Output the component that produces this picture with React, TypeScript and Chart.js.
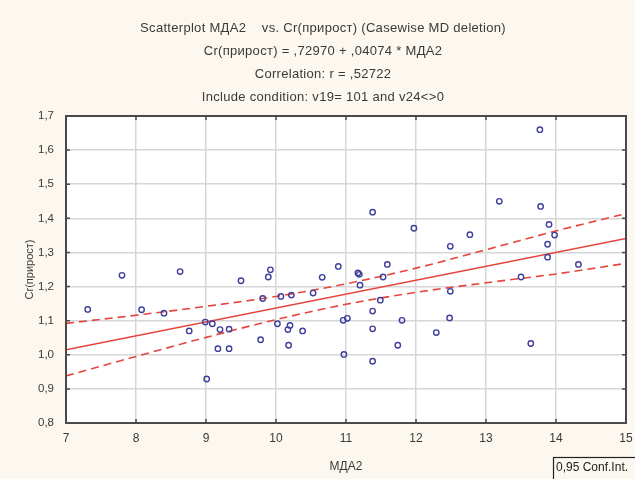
import React, { useEffect, useRef } from "react";
import { Chart, registerables } from "chart.js";

Chart.register(...registerables);

// Scatter points: МДА2 (x) vs Cr(прирост) (y)
const pointX = [
  7.31, 7.8, 8.08, 8.4, 8.63, 8.76, 8.99, 9.09, 9.01, 9.2, 9.33, 9.17, 9.33, 9.5,
  9.78, 9.92, 9.89, 9.81, 10.07, 10.22, 10.53, 10.66, 10.89, 10.02, 10.2, 10.17,
  10.38, 10.18, 10.96, 11.02, 10.97, 11.17, 11.19, 11.2, 11.59, 11.53, 11.49,
  11.38, 11.38, 11.8, 11.74, 11.38, 12.29, 12.48, 11.38, 11.97, 12.49, 13.77,
  13.19, 13.78, 13.9, 13.98, 13.88, 13.88, 12.77, 14.32, 13.5, 12.49, 13.64,
];
const pointY = [
  1.133, 1.233, 1.132, 1.122, 1.244, 1.07, 1.096, 1.091, 0.929, 1.074, 1.075,
  1.018, 1.018, 1.217, 1.044, 1.249, 1.228, 1.165, 1.171, 1.175, 1.181, 1.227,
  1.259, 1.091, 1.086, 1.074, 1.07, 1.028, 1.101, 1.107, 1.001, 1.24, 1.236,
  1.204, 1.265, 1.228, 1.16, 1.128, 1.076, 1.101, 1.028, 0.981, 1.065, 1.108,
  1.418, 1.371, 1.318, 1.66, 1.45, 1.435, 1.382, 1.351, 1.324, 1.286, 1.352,
  1.265, 1.228, 1.186, 1.033,
];

// Regression line and 95% confidence band
const fitX = [7, 15];
const fitY = [1.0149, 1.3408];
const bandX = [7, 8, 9, 10, 11, 12, 13, 14, 15];
const bandUpper = [1.092, 1.116, 1.142, 1.171, 1.208, 1.254, 1.308, 1.363, 1.414];
const bandLower = [0.938, 0.995, 1.051, 1.103, 1.148, 1.183, 1.211, 1.237, 1.268];

const xMin = 7;
const xMax = 15;
const yMin = 0.8;
const yMax = 1.7;

const titleLines = [
  "Scatterplot МДА2    vs. Cr(прирост) (Casewise MD deletion)",
  "Cr(прирост) = ,72970 + ,04074 * МДА2",
  "Correlation: r = ,52722",
  "Include condition: v19= 101 and v24<>0",
];
const xTitle = "МДА2";
const yTitle = "Cr(прирост)";
const legendText = "0,95 Conf.Int.";

const FONT = "'Liberation Sans', Arial, Helvetica, sans-serif";
const TEXT = "#3a3a3a";
const RED = "#e5453d";
const BLUE = "#3f3f9c";

const decorPlugin = {
  id: "decor",
  beforeDraw(chart: any) {
    const { ctx, chartArea: a, width, height } = chart;
    ctx.save();
    ctx.fillStyle = "#fcf7ef";
    ctx.fillRect(0, 0, width, height);
    ctx.fillStyle = "#ffffff";
    ctx.fillRect(a.left, a.top, a.right - a.left, a.bottom - a.top);
    ctx.restore();
  },
  afterDraw(chart: any) {
    const { ctx, chartArea: a, scales } = chart;
    ctx.save();
    // frame
    ctx.strokeStyle = "#4a4a4a";
    ctx.lineWidth = 2;
    ctx.strokeRect(a.left, a.top, a.right - a.left, a.bottom - a.top);
    // inner tick marks
    ctx.lineWidth = 1.5;
    ctx.beginPath();
    scales.x.ticks.forEach((t: any) => {
      const px = scales.x.getPixelForValue(t.value);
      ctx.moveTo(px, a.top);
      ctx.lineTo(px, a.top + 4);
      ctx.moveTo(px, a.bottom);
      ctx.lineTo(px, a.bottom - 4);
    });
    scales.y.ticks.forEach((t: any) => {
      const py = scales.y.getPixelForValue(t.value);
      ctx.moveTo(a.left, py);
      ctx.lineTo(a.left + 4, py);
      ctx.moveTo(a.right, py);
      ctx.lineTo(a.right - 4, py);
    });
    ctx.stroke();

    // title
    ctx.fillStyle = TEXT;
    ctx.font = `13px ${FONT}`;
    (ctx as any).letterSpacing = "0.3px";
    ctx.textAlign = "center";
    ctx.textBaseline = "middle";
    const cx = 323;
    const ty = [28, 51, 74, 97];
    titleLines.forEach((l, i) => ctx.fillText(l, cx, ty[i]));
    (ctx as any).letterSpacing = "0px";

    // axis titles
    ctx.font = `12px ${FONT}`;
    ctx.fillText(xTitle, (a.left + a.right) / 2, 467);
    ctx.save();
    ctx.font = `11px ${FONT}`;
    ctx.translate(30, (a.top + a.bottom) / 2);
    ctx.rotate(-Math.PI / 2);
    ctx.fillText(yTitle, 0, 0);
    ctx.restore();

    // legend box
    ctx.strokeStyle = "#222";
    ctx.lineWidth = 1.2;
    ctx.strokeRect(553.5, 457.5, 100, 30);
    ctx.textAlign = "left";
    ctx.fillStyle = "#222";
    ctx.font = `12px ${FONT}`;
    ctx.fillText(legendText, 556, 468);
    ctx.restore();
  },
};

export default function App() {
  const ref = useRef<HTMLCanvasElement | null>(null);

  useEffect(() => {
    document.body.style.margin = "0";
    const canvas = ref.current;
    if (!canvas) return;
    Chart.defaults.font.family = FONT;

    const points = pointX.map((x, i) => ({ x, y: pointY[i] }));
    const fit = fitX.map((x, i) => ({ x, y: fitY[i] }));
    const upper = bandX.map((x, i) => ({ x, y: bandUpper[i] }));
    const lower = bandX.map((x, i) => ({ x, y: bandLower[i] }));

    const chart = new Chart(canvas, {
      type: "scatter",
      data: {
        datasets: [
          {
            data: points,
            showLine: false,
            pointStyle: "circle",
            pointRadius: 2.7,
            pointBorderWidth: 1.4,
            pointBorderColor: BLUE,
            pointBackgroundColor: "rgba(255,255,255,0)",
          },
          {
            data: fit,
            showLine: true,
            borderColor: RED,
            borderWidth: 1.6,
            pointRadius: 0,
          },
          {
            data: upper,
            showLine: true,
            borderColor: RED,
            borderWidth: 1.6,
            borderDash: [8, 5],
            cubicInterpolationMode: "monotone",
            pointRadius: 0,
          },
          {
            data: lower,
            showLine: true,
            borderColor: RED,
            borderWidth: 1.6,
            borderDash: [8, 5],
            cubicInterpolationMode: "monotone",
            pointRadius: 0,
          },
        ],
      } as any,
      options: {
        responsive: false,
        animation: false,
        devicePixelRatio: 1,
        layout: { padding: { top: 116, right: 9, left: 0, bottom: 0 } },
        plugins: {
          legend: { display: false },
          tooltip: { enabled: false },
          title: { display: false },
        },
        scales: {
          x: {
            type: "linear",
            min: xMin,
            max: xMax,
            afterFit: (s: any) => {
              s.height = 56;
              s.paddingRight = 0;
              s.paddingLeft = 0;
            },
            ticks: {
              stepSize: 1,
              color: TEXT,
              font: { size: 12, family: FONT },
              padding: 8,
              maxRotation: 0,
            },
            grid: { color: "#d6d6d6", lineWidth: 1.5, drawTicks: false },
            border: { display: false },
          },
          y: {
            type: "linear",
            min: yMin,
            max: yMax,
            afterFit: (s: any) => {
              s.width = 66;
            },
            ticks: {
              stepSize: 0.1,
              color: TEXT,
              font: { size: 11.5, family: FONT },
              padding: 12,
              callback: (v: any) => Number(v).toFixed(1).replace(".", ","),
            },
            grid: { color: "#d6d6d6", lineWidth: 1.5, drawTicks: false },
            border: { display: false },
          },
        },
      } as any,
      plugins: [decorPlugin],
    });
    return () => chart.destroy();
  }, []);

  return (
    <div style={{ position: "absolute", left: 0, top: 0, width: 635, height: 479 }}>
      <canvas ref={ref} width={635} height={479} style={{ display: "block" }} />
    </div>
  );
}
